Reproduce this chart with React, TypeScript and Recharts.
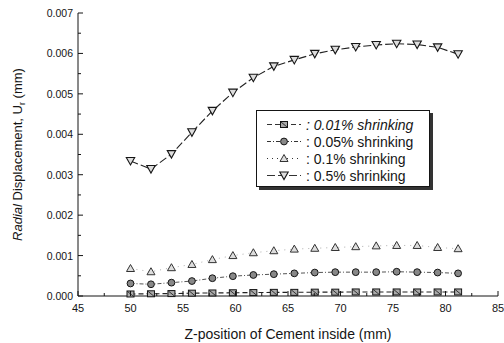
import { LineChart, Line, XAxis, YAxis, Label } from "recharts";

const zPos = [50, 51.95, 53.9, 55.85, 57.8, 59.75, 61.7, 63.65, 65.6, 67.55, 69.5, 71.45, 73.4, 75.35, 77.3, 79.25, 81.2];
const shrink001 = [0.00005, 0.000055, 0.00006, 0.00007, 0.000075, 0.00008, 0.000085, 0.00009, 0.00009, 0.000095, 0.000095, 0.0001, 0.0001, 0.0001, 0.0001, 0.0001, 0.0001];
const shrink005 = [0.00031, 0.00029, 0.00033, 0.00037, 0.00044, 0.00049, 0.00052, 0.00054, 0.00056, 0.00058, 0.00059, 0.00059, 0.00059, 0.0006, 0.00059, 0.00058, 0.00056];
const shrink01 = [0.00068, 0.0006, 0.0007, 0.00078, 0.0009, 0.001, 0.00107, 0.00112, 0.00116, 0.00118, 0.0012, 0.00122, 0.00124, 0.00125, 0.00125, 0.0012, 0.00117];
const shrink05 = [0.00334, 0.00314, 0.00351, 0.00405, 0.00458, 0.00503, 0.0054, 0.00568, 0.00584, 0.00599, 0.00609, 0.00616, 0.00621, 0.00624, 0.00622, 0.00615, 0.00598];

const xTicks = [45, 47.5, 50, 52.5, 55, 57.5, 60, 62.5, 65, 67.5, 70, 72.5, 75, 77.5, 80, 82.5, 85];
const xMajor = [45, 50, 55, 60, 65, 70, 75, 80, 85];
const yTicks = [0, 0.0005, 0.001, 0.0015, 0.002, 0.0025, 0.003, 0.0035, 0.004, 0.0045, 0.005, 0.0055, 0.006, 0.0065, 0.007];
const yMajor = [0, 0.001, 0.002, 0.003, 0.004, 0.005, 0.006, 0.007];

const data = zPos.map((z, i) => ({
  z,
  a: shrink001[i],
  b: shrink005[i],
  c: shrink01[i],
  d: shrink05[i],
}));

const ink = "#151515";
const font = "Arial, 'Liberation Sans', sans-serif";

const isMajor = (list: number[], v: number) => list.some((m) => Math.abs(m - v) < 1e-9);

function Square({ cx, cy }: { cx: number; cy: number }) {
  return (
    <g>
      <rect x={cx - 3.5} y={cy - 3} width={7} height={6} fill="#aaa" stroke={ink} strokeWidth={1} />
      <line x1={cx - 3} y1={cy - 2.5} x2={cx + 3} y2={cy + 2.5} stroke={ink} strokeWidth={0.8} />
    </g>
  );
}
function Circle({ cx, cy }: { cx: number; cy: number }) {
  return <circle cx={cx} cy={cy} r={3.4} fill="#888" stroke={ink} strokeWidth={1} />;
}
function TriUp({ cx, cy }: { cx: number; cy: number }) {
  return (
    <polygon
      points={`${cx},${cy - 4} ${cx - 4},${cy + 3} ${cx + 4},${cy + 3}`}
      fill="#ddd"
      stroke="#333"
      strokeWidth={1}
    />
  );
}
function TriDown({ cx, cy }: { cx: number; cy: number }) {
  return (
    <polygon
      points={`${cx - 4.2},${cy - 3.5} ${cx + 4.2},${cy - 3.5} ${cx},${cy + 4}`}
      fill="#ddd"
      stroke={ink}
      strokeWidth={1.1}
    />
  );
}

const BottomTick = (props: any) => {
  const { x, y, payload } = props;
  const major = isMajor(xMajor, payload.value);
  return (
    <g>
      <line x1={x} x2={x} y1={y} y2={y - (major ? 5 : 3)} stroke={ink} />
      {major && (
        <text x={x} y={y + 16} textAnchor="middle" fontSize={11} fill={ink} fontFamily={font}>
          {payload.value}
        </text>
      )}
    </g>
  );
};
const TopTick = (props: any) => {
  const { x, y, payload } = props;
  const major = isMajor(xMajor, payload.value);
  return <line x1={x} x2={x} y1={y} y2={y + (major ? 5 : 3)} stroke={ink} />;
};
const LeftTick = (props: any) => {
  const { x, y, payload } = props;
  const major = isMajor(yMajor, payload.value);
  return (
    <g>
      <line x1={x} x2={x + (major ? 5 : 3)} y1={y} y2={y} stroke={ink} />
      {major && (
        <text x={x - 5} y={y + 4} textAnchor="end" fontSize={10.5} fill={ink} fontFamily={font}>
          {payload.value.toFixed(3)}
        </text>
      )}
    </g>
  );
};
const RightTick = (props: any) => {
  const { x, y, payload } = props;
  const major = isMajor(yMajor, payload.value);
  return <line x1={x} x2={x - (major ? 5 : 3)} y1={y} y2={y} stroke={ink} />;
};

const legendRows = [
  { label: ": 0.01% shrinking", italic: true, dash: "5 3", Marker: Square },
  { label: ": 0.05% shrinking", italic: false, dash: "4 2 1 2", Marker: Circle },
  { label: ": 0.1% shrinking", italic: false, dash: "1 4", Marker: TriUp },
  { label: ": 0.5% shrinking", italic: false, dash: "8 3", Marker: TriDown },
];

export default function App() {
  return (
    <div style={{ position: "absolute", left: 0, top: 0, width: 504, height: 343, background: "#fff" }}>
      <LineChart width={504} height={343} data={data} margin={{ top: 13, right: 6, left: 0, bottom: 0 }}>
        <XAxis
          dataKey="z"
          type="number"
          domain={[45, 85]}
          ticks={xTicks}
          interval={0}
          tickSize={0}
          tickMargin={0}
          tick={BottomTick}
          axisLine={{ stroke: ink }}
          height={47}
        >
          <Label
            content={(p: any) => (
              <text
                x={p.viewBox.x + p.viewBox.width / 2}
                y={p.viewBox.y + 43}
                textAnchor="middle"
                fontSize={14}
                fill={ink}
                fontFamily={font}
              >
                Z-position of Cement inside (mm)
              </text>
            )}
          />
        </XAxis>
        <XAxis
          xAxisId="top"
          orientation="top"
          type="number"
          domain={[45, 85]}
          ticks={xTicks}
          interval={0}
          tickSize={0}
          tickMargin={0}
          tick={TopTick}
          axisLine={{ stroke: ink }}
          height={0}
        />
        <YAxis
          type="number"
          domain={[0, 0.007]}
          ticks={yTicks}
          interval={0}
          tickSize={0}
          tickMargin={0}
          tick={LeftTick}
          axisLine={{ stroke: ink }}
          width={78}
        >
          <Label
            content={(p: any) => {
              const cx = 22;
              const cy = p.viewBox.y + p.viewBox.height / 2;
              return (
                <text
                  transform={`translate(${cx},${cy}) rotate(-90)`}
                  textAnchor="middle"
                  fontSize={13}
                  fill={ink}
                  fontFamily={font}
                >
                  <tspan fontStyle="italic">Radial</tspan> Displacement, U
                  <tspan fontSize={9} dy={3}>r</tspan>
                  <tspan dy={-3}> (mm)</tspan>
                </text>
              );
            }}
          />
        </YAxis>
        <YAxis
          yAxisId="right"
          orientation="right"
          type="number"
          domain={[0, 0.007]}
          ticks={yTicks}
          interval={0}
          tickSize={0}
          tickMargin={0}
          tick={RightTick}
          axisLine={{ stroke: ink }}
          width={0}
        />
        <Line
          dataKey="a"
          stroke="#222"
          strokeWidth={1.1}
          strokeDasharray="5 3"
          isAnimationActive={false}
          dot={(p: any) => <Square key={`a${p.index}`} cx={p.cx} cy={p.cy} />}
        />
        <Line
          dataKey="b"
          stroke="#555"
          strokeWidth={1}
          strokeDasharray="4 2 1 2"
          isAnimationActive={false}
          dot={(p: any) => <Circle key={`b${p.index}`} cx={p.cx} cy={p.cy} />}
        />
        <Line
          dataKey="c"
          stroke="#999"
          strokeWidth={0.8}
          strokeDasharray="1 5"
          isAnimationActive={false}
          dot={(p: any) => <TriUp key={`c${p.index}`} cx={p.cx} cy={p.cy} />}
        />
        <Line
          dataKey="d"
          stroke="#222"
          strokeWidth={1.1}
          strokeDasharray="8 3"
          isAnimationActive={false}
          dot={(p: any) => <TriDown key={`d${p.index}`} cx={p.cx} cy={p.cy} />}
        />
      </LineChart>
      <div
        style={{
          position: "absolute",
          left: 256,
          top: 110,
          width: 174,
          height: 77,
          border: `1px solid ${ink}`,
          boxShadow: "3px 3px 0 #333",
          background: "#fff",
          fontFamily: font,
          fontSize: 14,
          color: ink,
          paddingTop: 5,
          boxSizing: "border-box",
        }}
      >
        {legendRows.map((r) => (
          <div key={r.label} style={{ display: "flex", alignItems: "center", height: 17 }}>
            <svg width={49} height={17}>
              <line x1={10} x2={44} y1={8.5} y2={8.5} stroke="#333" strokeDasharray={r.dash} />
              <r.Marker cx={27} cy={8.5} />
            </svg>
            <span style={{ fontStyle: r.italic ? "italic" : "normal", whiteSpace: "nowrap" }}>{r.label}</span>
          </div>
        ))}
      </div>
    </div>
  );
}
